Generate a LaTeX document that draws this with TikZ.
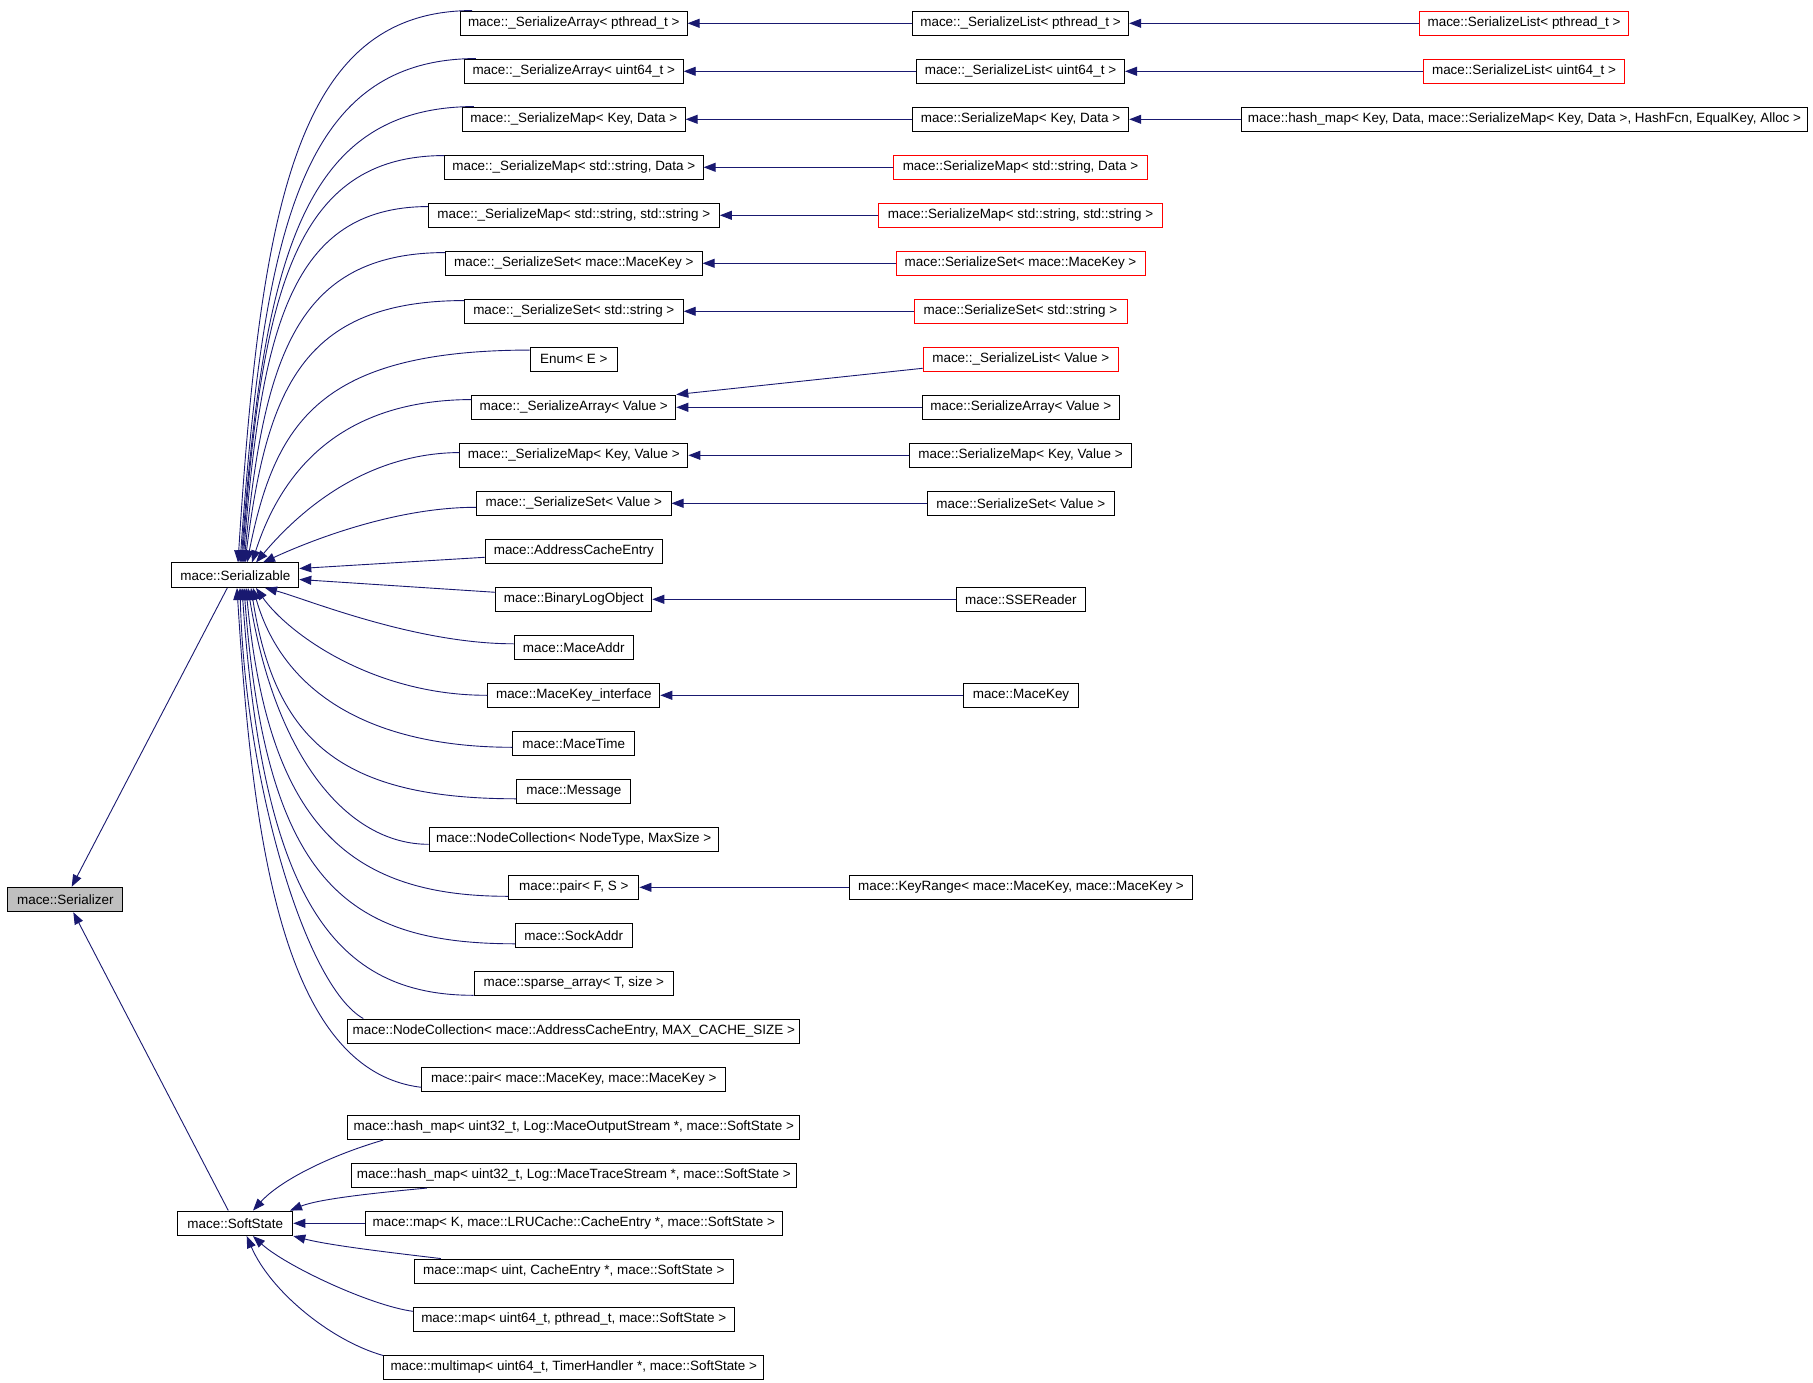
\documentclass[tikz,border=0pt]{standalone}
\usepackage{fontspec}
\setmainfont{Liberation Sans}
\usetikzlibrary{arrows.meta,calc}
\definecolor{edgeblue}{HTML}{191970}
\definecolor{selgray}{HTML}{BFBFBF}
\begin{document}
\begin{tikzpicture}[x=1pt,y=-1pt,
  cls/.style={draw=black, line width=1pt, inner sep=0pt, minimum height=24.5pt,
    font=\fontsize{13.45pt}{15pt}\selectfont, text=black},
  redcls/.style={cls, draw=red},
  selcls/.style={cls, fill=selgray},
  edge/.style={draw=edgeblue, line width=0.9pt, -{Triangle[length=12pt,width=9pt]}},
]
\useasboundingbox (0,0) rectangle (1813,1383);

% ---------- left column ----------
\node[selcls, minimum width=115pt] (szr) at (65.3,899.5) {mace::Serializer};
\node[cls, minimum width=127pt] (sz) at (235.3,575.2) {mace::Serializable};
\node[cls, minimum width=115pt] (ss) at (235.3,1223.3) {mace::SoftState};

% ---------- column 2 ----------
\node[cls, minimum width=226.5pt] (c1) at (573.8,23.3) {mace::\_SerializeArray< pthread\_t >};
\node[cls, minimum width=218.8pt] (c2) at (573.8,71.3) {mace::\_SerializeArray< uint64\_t >};
\node[cls, minimum width=222.7pt] (c3) at (573.8,119.3) {mace::\_SerializeMap< Key, Data >};
\node[cls, minimum width=258.6pt] (c4) at (573.8,167.3) {mace::\_SerializeMap< std::string, Data >};
\node[cls, minimum width=291.1pt] (c5) at (573.8,215.3) {mace::\_SerializeMap< std::string, std::string >};
\node[cls, minimum width=256.6pt] (c6) at (573.8,263.3) {mace::\_SerializeSet< mace::MaceKey >};
\node[cls, minimum width=218.8pt] (c7) at (573.8,311.3) {mace::\_SerializeSet< std::string >};
\node[cls, minimum width=87.2pt] (c8) at (573.8,359.3) {Enum< E >};
\node[cls, minimum width=204pt] (c9) at (573.8,407.3) {mace::\_SerializeArray< Value >};
\node[cls, minimum width=228pt] (c10) at (573.8,455.3) {mace::\_SerializeMap< Key, Value >};
\node[cls, minimum width=194.4pt] (c11) at (573.8,503.3) {mace::\_SerializeSet< Value >};
\node[cls, minimum width=177.2pt] (c12) at (573.8,551.3) {mace::AddressCacheEntry};
\node[cls, minimum width=156pt] (c13) at (573.8,599.3) {mace::BinaryLogObject};
\node[cls, minimum width=119.4pt] (c14) at (573.8,647.3) {mace::MaceAddr};
\node[cls, minimum width=172pt] (c15) at (573.8,695.3) {mace::MaceKey\_interface};
\node[cls, minimum width=122pt] (c16) at (573.8,743.3) {mace::MaceTime};
\node[cls, minimum width=113.8pt] (c17) at (573.8,791.3) {mace::Message};
\node[cls, minimum width=289.2pt] (c18) at (573.8,839.3) {mace::NodeCollection< NodeType, MaxSize >};
\node[cls, minimum width=130.3pt] (c19) at (573.8,887.3) {mace::pair< F, S >};
\node[cls, minimum width=117pt] (c20) at (573.8,935.3) {mace::SockAddr};
\node[cls, minimum width=199.2pt] (c21) at (573.8,983.3) {mace::sparse\_array< T, size >};
\node[cls, minimum width=452pt] (c22) at (573.8,1031.3) {mace::NodeCollection< mace::AddressCacheEntry, MAX\_CACHE\_SIZE >};
\node[cls, minimum width=304pt] (c23) at (573.8,1079.3) {mace::pair< mace::MaceKey, mace::MaceKey >};
\node[cls, minimum width=452pt] (s24) at (573.8,1127.3) {mace::hash\_map< uint32\_t, Log::MaceOutputStream *, mace::SoftState >};
\node[cls, minimum width=445pt] (s25) at (573.8,1175.3) {mace::hash\_map< uint32\_t, Log::MaceTraceStream *, mace::SoftState >};
\node[cls, minimum width=417pt] (s26) at (573.8,1223.3) {mace::map< K, mace::LRUCache::CacheEntry *, mace::SoftState >};
\node[cls, minimum width=319pt] (s27) at (573.8,1271.3) {mace::map< uint, CacheEntry *, mace::SoftState >};
\node[cls, minimum width=321pt] (s28) at (573.8,1319.3) {mace::map< uint64\_t, pthread\_t, mace::SoftState >};
\node[cls, minimum width=380pt] (s29) at (573.8,1367.3) {mace::multimap< uint64\_t, TimerHandler *, mace::SoftState >};

% ---------- column 3 ----------
\node[cls, minimum width=216.4pt] (d1) at (1020.5,23.3) {mace::\_SerializeList< pthread\_t >};
\node[cls, minimum width=208pt] (d2) at (1020.5,71.3) {mace::\_SerializeList< uint64\_t >};
\node[cls, minimum width=216.4pt] (d3) at (1020.5,119.3) {mace::SerializeMap< Key, Data >};
\node[redcls, minimum width=253.4pt] (d4) at (1020.5,167.3) {mace::SerializeMap< std::string, Data >};
\node[redcls, minimum width=283.3pt] (d5) at (1020.5,215.3) {mace::SerializeMap< std::string, std::string >};
\node[redcls, minimum width=249pt] (d6) at (1020.5,263.3) {mace::SerializeSet< mace::MaceKey >};
\node[redcls, minimum width=213pt] (d7) at (1020.5,311.3) {mace::SerializeSet< std::string >};
\node[redcls, minimum width=195.5pt] (d8) at (1020.8,359.3) {mace::\_SerializeList< Value >};
\node[cls, minimum width=197.3pt] (d9) at (1020.8,407.3) {mace::SerializeArray< Value >};
\node[cls, minimum width=221.5pt] (d10) at (1020.5,455.3) {mace::SerializeMap< Key, Value >};
\node[cls, minimum width=186.7pt] (d11) at (1020.8,503.3) {mace::SerializeSet< Value >};
\node[cls, minimum width=128.5pt] (d13) at (1020.8,599.3) {mace::SSEReader};
\node[cls, minimum width=115.7pt] (d15) at (1021,695.3) {mace::MaceKey};
\node[cls, minimum width=342.2pt] (d19) at (1021,887.3) {mace::KeyRange< mace::MaceKey, mace::MaceKey >};

% ---------- column 4 ----------
\node[redcls, minimum width=208.7pt] (e1) at (1524,23.3) {mace::SerializeList< pthread\_t >};
\node[redcls, minimum width=201.2pt] (e2) at (1524,71.3) {mace::SerializeList< uint64\_t >};
\node[cls, minimum width=566.9pt] (e3) at (1524.5,119.3) {mace::hash\_map< Key, Data, mace::SerializeMap< Key, Data >, HashFcn, EqualKey, Alloc >};

% ---------- horizontal edges ----------
\foreach \a/\b in {d1/c1,d2/c2,d3/c3,d4/c4,d5/c5,d6/c6,d7/c7,d9/c9,d10/c10,d11/c11,d13/c13,d15/c15,d19/c19,e1/d1,e2/d2,e3/d3}
  \draw[edge] (\a.west) -- (\b.east);
\draw[edge] ($(d8.west)+(0,9)$) -- (c9.north east);

% ---------- edges to Serializable (from above) ----------
\draw[edge] ($(c1.north west)+(12,0)$) .. controls (299,11) and (261,197) .. (238,0 |- sz.north);
\draw[edge] ($(c2.north west)+(12,0)$) .. controls (301,59) and (264,229) .. (240,0 |- sz.north);
\draw[edge] ($(c3.north west)+(12,0)$) .. controls (301,107) and (264,261) .. (241,0 |- sz.north);
\draw[edge] ($(c4.north west)+(0,1)$) .. controls (294,156) and (262,293) .. (242,0 |- sz.north);
\draw[edge] ($(c5.north west)+(0,4)$) .. controls (291,207.2) and (261.5,327) .. (243,0 |- sz.north);
\draw[edge] ($(c6.north west)+(0,2)$) .. controls (296,253) and (264,357) .. (244,0 |- sz.north);
\draw[edge] ($(c7.north west)+(0,2)$) .. controls (302,301) and (267,389) .. (245,0 |- sz.north);
\draw[edge] ($(c8.north west)+(0,3.5)$) .. controls (320,350.5) and (275,422) .. (247,0 |- sz.north);
\draw[edge] ($(c9.north west)+(0,5)$) .. controls (351,400) and (285,460) .. (252,0 |- sz.north);
\draw[edge] ($(c10.north west)+(0,10)$) .. controls (357.7,453.2) and (291,521) .. (256,0 |- sz.north);
\draw[edge] ($(c11.west)+(0,4)$) .. controls (391,507.2) and (303,544) .. (263,0 |- sz.north);
\draw[edge] ($(c12.west)+(0,6)$) -- ($(sz.east)+(0,-6.7)$);
\draw[edge] ($(c13.west)+(0,-7)$) -- ($(sz.east)+(0,4.3)$);

% ---------- edges to Serializable (from below) ----------
\draw[edge] ($(c14.west)+(0,-3.5)$) .. controls (414,643.8) and (305,598.5) .. (265,0 |- sz.south);
\draw[edge] (c15.west) .. controls (373,695.5) and (288,633.5) .. (256,0 |- sz.south);
\draw[edge] ($(c16.west)+(0,4)$) .. controls (371,747.2) and (283,693.2) .. (253,0 |- sz.south);
\draw[edge] ($(c17.west)+(0,7.5)$) .. controls (340,798.8) and (275,740.5) .. (251,0 |- sz.south);
\draw[edge] ($(c18.west)+(0,5)$) .. controls (347.7,844.5) and (275,757.5) .. (248,0 |- sz.south);
\draw[edge] ($(c19.west)+(0,9)$) .. controls (345,896.5) and (268,820.5) .. (246,0 |- sz.south);
\draw[edge] ($(c20.west)+(0,8.5)$) .. controls (345,943.8) and (266,880.5) .. (244,0 |- sz.south);
\draw[edge] ($(c21.west)+(0,12)$) .. controls (335,995.5) and (263,900.5) .. (242,0 |- sz.south);
\draw[edge] ($(c22.north west)+(16,0)$) .. controls (305,985.5) and (245,780.5) .. (240,0 |- sz.south);
\draw[edge] ($(c23.west)+(0,8)$) .. controls (280,1070.5) and (252,830.5) .. (237,0 |- sz.south);

% ---------- edges to SoftState ----------
\draw[edge] ($(s24.south west)+(36,0)$) .. controls (330,1155.5) and (280,1180.5) .. (253,0 |- ss.north);
\draw[edge] ($(s25.south west)+(76,0)$) .. controls (380,1192.5) and (320,1198.5) .. (290,0 |- ss.north);
\draw[edge] (s26.west) -- (ss.east);
\draw[edge] ($(s27.north west)+(27,0)$) .. controls (390,1252.5) and (330,1245.5) .. (ss.south east);
\draw[edge] ($(s28.west)+(0,-8)$) .. controls (370,1305.5) and (285,1265.5) .. (253,0 |- ss.south);
\draw[edge] ($(s29.north west)+(0,1)$) .. controls (330,1340.5) and (270,1290.5) .. (246.7,0 |- ss.south);

% ---------- edges to Serializer ----------
\draw[edge] (227.3,0 |- sz.south) -- (71.7,0 |- szr.north);
\draw[edge] (228.3,0 |- ss.north) -- (73.3,0 |- szr.south);
\end{tikzpicture}
\end{document}
